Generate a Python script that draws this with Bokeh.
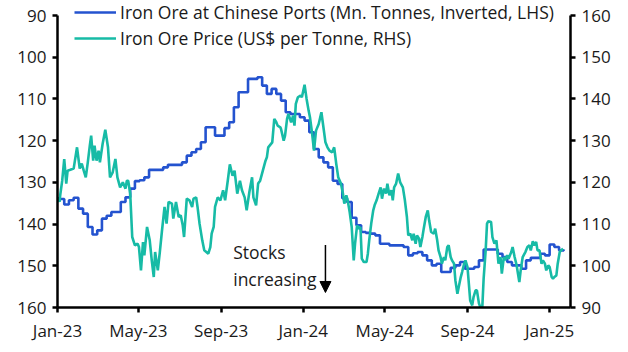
import pandas as pd
from bokeh.plotting import figure
from bokeh.models import (Range1d, LinearAxis, DatetimeTickFormatter, MonthsTicker,
                          FixedTicker, Legend, LegendItem, Arrow, NormalHead, ColumnDataSource)
from bokeh.core.properties import value
from bokeh.embed import file_html
from bokeh.resources import INLINE

# ---------------- data ----------------
# Iron ore stocks at Chinese ports (Mn tonnes, weekly, LHS inverted)
stocks_start = "2022-12-28"
stocks_values = [
    133.9, 134.0, 135.3, 134.3, 133.7, 136.3, 137.5, 140.7, 142.5, 141.5,
    138.7, 138.0, 137.1, 137.1, 134.7, 133.6, 131.5, 129.7, 129.5, 128.8,
    127.0, 127.0, 127.0, 126.4, 125.8, 125.8, 125.8, 125.2, 123.6, 122.8,
    122.0, 120.4, 116.8, 116.8, 118.8, 118.8, 117.0, 115.6, 112.0, 108.4,
    108.4, 105.2, 105.2, 104.8, 106.8, 108.8, 107.6, 108.8, 110.4, 113.2,
    113.6, 113.6, 114.4, 115.2, 118.0, 122.0, 124.0, 125.2, 126.4, 129.6,
    130.4, 133.8, 134.7, 138.5, 140.3, 141.9, 142.1, 142.3, 142.7, 144.7,
    144.7, 145.1, 145.1, 145.1, 145.5, 147.5, 147.0, 146.7, 147.5, 148.7,
    149.9, 149.5, 151.5, 151.5, 150.5, 149.9, 149.1, 150.7, 150.7, 150.3,
    148.7, 146.1, 146.1, 146.1, 147.1, 147.9, 149.1, 149.9, 149.9, 150.7,
    148.7, 148.1, 148.1, 147.1, 147.5, 144.9, 145.5, 146.3, 146.1,
]

# Iron ore price (US$ per tonne, RHS)
price_dates = [
    "2023-01-02", "2023-01-04", "2023-01-05", "2023-01-08", "2023-01-11", "2023-01-14", "2023-01-16",
    "2023-01-20", "2023-01-25", "2023-01-30", "2023-02-03", "2023-02-06", "2023-02-09", "2023-02-12",
    "2023-02-15", "2023-02-18", "2023-02-20", "2023-02-23", "2023-02-25", "2023-02-28", "2023-03-03",
    "2023-03-05", "2023-03-09", "2023-03-13", "2023-03-17", "2023-03-20", "2023-03-24", "2023-03-28",
    "2023-03-31", "2023-04-04", "2023-04-08", "2023-04-12", "2023-04-14", "2023-04-16", "2023-04-19",
    "2023-04-22", "2023-04-26", "2023-04-30", "2023-05-02", "2023-05-05", "2023-05-08", "2023-05-10",
    "2023-05-14", "2023-05-18", "2023-05-21", "2023-05-24", "2023-05-26", "2023-05-30", "2023-06-02",
    "2023-06-05", "2023-06-09", "2023-06-12", "2023-06-15", "2023-06-20", "2023-06-22", "2023-06-26",
    "2023-06-30", "2023-07-03", "2023-07-06", "2023-07-08", "2023-07-12", "2023-07-16", "2023-07-20",
    "2023-07-22", "2023-07-26", "2023-07-28", "2023-07-31", "2023-08-04", "2023-08-07", "2023-08-10",
    "2023-08-13", "2023-08-16", "2023-08-18", "2023-08-21", "2023-08-23", "2023-08-27", "2023-08-31",
    "2023-09-04", "2023-09-07", "2023-09-11", "2023-09-14", "2023-09-18", "2023-09-21", "2023-09-25",
    "2023-09-27", "2023-09-29", "2023-10-02", "2023-10-06", "2023-10-09", "2023-10-13", "2023-10-17",
    "2023-10-19", "2023-10-23", "2023-10-26", "2023-10-29", "2023-11-02", "2023-11-06", "2023-11-08",
    "2023-11-10", "2023-11-16", "2023-11-19", "2023-11-22", "2023-11-24", "2023-11-28", "2023-11-29",
    "2023-12-03", "2023-12-05", "2023-12-08", "2023-12-10", "2023-12-14", "2023-12-17", "2023-12-19",
    "2023-12-21", "2023-12-24", "2023-12-28", "2023-12-30", "2024-01-03", "2024-01-06", "2024-01-09",
    "2024-01-11", "2024-01-14", "2024-01-17", "2024-01-20", "2024-01-24", "2024-01-28", "2024-01-31",
    "2024-02-03", "2024-02-06", "2024-02-09", "2024-02-13", "2024-02-16", "2024-02-19", "2024-02-22",
    "2024-02-26", "2024-02-29", "2024-03-02", "2024-03-05", "2024-03-07", "2024-03-10", "2024-03-13",
    "2024-03-16", "2024-03-18", "2024-03-21", "2024-03-23", "2024-03-26", "2024-03-28", "2024-03-31",
    "2024-04-04", "2024-04-06", "2024-04-08", "2024-04-11", "2024-04-14", "2024-04-16", "2024-04-19",
    "2024-04-22", "2024-04-25", "2024-04-27", "2024-04-30", "2024-05-03", "2024-05-05", "2024-05-08",
    "2024-05-11", "2024-05-13", "2024-05-15", "2024-05-18", "2024-05-21", "2024-05-24", "2024-05-28",
    "2024-05-31", "2024-06-03", "2024-06-05", "2024-06-08", "2024-06-11", "2024-06-13", "2024-06-16",
    "2024-06-18", "2024-06-21", "2024-06-23", "2024-06-26", "2024-06-28", "2024-07-01", "2024-07-04",
    "2024-07-06", "2024-07-09", "2024-07-13", "2024-07-15", "2024-07-18", "2024-07-20", "2024-07-23",
    "2024-07-25", "2024-07-28", "2024-07-30", "2024-08-02", "2024-08-04", "2024-08-07", "2024-08-09",
    "2024-08-12", "2024-08-14", "2024-08-17", "2024-08-19", "2024-08-22", "2024-08-24", "2024-08-27",
    "2024-08-29", "2024-09-01", "2024-09-03", "2024-09-05", "2024-09-08", "2024-09-10", "2024-09-13",
    "2024-09-15", "2024-09-18", "2024-09-20", "2024-09-23", "2024-09-25", "2024-09-28", "2024-09-30",
    "2024-10-02", "2024-10-06", "2024-10-08", "2024-10-11", "2024-10-14", "2024-10-17", "2024-10-20",
    "2024-10-22", "2024-10-25", "2024-10-27", "2024-10-30", "2024-11-01", "2024-11-05", "2024-11-07",
    "2024-11-10", "2024-11-13", "2024-11-15", "2024-11-17", "2024-11-19", "2024-11-22", "2024-11-26",
    "2024-11-29", "2024-12-02", "2024-12-04", "2024-12-07", "2024-12-09", "2024-12-12", "2024-12-14",
    "2024-12-17", "2024-12-20", "2024-12-22", "2024-12-25", "2024-12-27", "2024-12-30", "2025-01-01",
    "2025-01-04", "2025-01-06", "2025-01-08", "2025-01-11", "2025-01-13", "2025-01-16", "2025-01-18",
    "2025-01-21",
]
price_values = [
    116.4, 115.3, 116.9, 120.4, 125.6, 119.7, 122.8,
    123.0, 123.3, 128.4, 123.3, 124.5, 122.8, 121.2,
    124.8, 128.8, 131.2, 125.2, 128.8, 125.2, 127.6,
    124.8, 129.2, 132.6, 128.4, 121.2, 122.4, 125.6,
    121.2, 118.8, 120.0, 118.5, 120.4, 120.4, 117.3,
    106.9, 104.9, 105.3, 104.5, 98.9, 105.7, 102.5,
    109.3, 106.1, 101.3, 97.3, 103.3, 98.9, 103.3,
    108.1, 114.1, 110.1, 115.3, 114.9, 111.3, 115.3,
    111.7, 112.1, 109.7, 106.9, 116.1, 115.7, 114.1,
    116.1, 116.4, 114.1, 110.1, 106.1, 103.7, 103.3,
    102.9, 104.5, 107.7, 109.3, 114.1, 116.4, 115.7,
    118.1, 115.7, 120.5, 124.3, 121.6, 122.8, 117.3,
    118.8, 120.4, 118.1, 116.4, 113.3, 117.7, 121.2,
    116.4, 114.5, 119.7, 120.4, 122.8, 125.2, 126.0,
    128.4, 129.6, 135.2, 134.4, 133.6, 133.2, 132.8,
    130.0, 131.2, 135.2, 136.4, 134.4, 136.0, 133.6,
    138.8, 140.4, 140.8, 140.4, 143.4, 140.0, 137.2,
    135.6, 132.0, 127.6, 132.4, 134.0, 136.8, 133.2,
    129.6, 128.4, 127.6, 127.2, 128.4, 124.5, 121.2,
    119.7, 117.3, 114.9, 116.9, 115.7, 112.9, 109.3,
    101.3, 105.3, 109.7, 108.9, 109.3, 101.7, 100.9,
    100.9, 102.9, 106.1, 110.1, 113.3, 114.5, 115.7,
    117.3, 118.8, 116.1, 118.5, 117.3, 119.7, 116.9,
    118.1, 115.7, 118.8, 119.7, 122.1, 120.0, 118.8,
    115.7, 111.7, 107.3, 107.7, 106.1, 107.7, 105.3,
    107.3, 106.5, 104.5, 106.9, 108.9, 111.7, 113.3,
    110.9, 108.1, 107.7, 108.9, 106.1, 103.7, 102.1,
    100.5, 102.1, 101.3, 104.5, 104.9, 102.1, 101.3,
    100.5, 96.5, 93.3, 94.9, 97.3, 98.5, 100.5,
    101.3, 99.7, 95.7, 91.7, 90.5, 92.5, 94.1,
    94.1, 91.0, 90.1, 90.1, 97.0, 103.7, 110.1,
    110.7, 110.5, 106.9, 105.3, 106.1, 100.5, 102.1,
    98.1, 102.1, 101.3, 102.5, 101.7, 103.3, 104.5,
    102.1, 100.1, 98.1, 96.1, 98.9, 102.1, 103.3,
    104.5, 104.9, 103.7, 105.9, 104.9, 105.7, 103.7,
    103.7, 100.5, 101.3, 100.5, 98.9, 100.1, 99.7,
    97.3, 96.9, 97.3, 97.7, 100.5, 103.3, 103.7,
    104.1,
]

lhs_ticks = [90, 100, 110, 120, 130, 140, 150, 160]
rhs_ticks = [90, 100, 110, 120, 130, 140, 150, 160]
series_names = ["Iron Ore at Chinese Ports (Mn. Tonnes, Inverted, LHS)",
                "Iron Ore Price (US$ per Tonne, RHS)"]
note_lines = ["Stocks", "increasing"]

# ---------------- styling ----------------
FONT = "Open Sans"
FS = "17px"
LEG_FS = "17.5px"
NOTE_FS = "17.5px"
BLUE = "#2453CF"
TEAL = "#17BBA6"
TXT = "#1a1a1a"
HEADROOM = 15 * 70 / 292  # extra data room above 90/160 so the legend sits inside the frame

stocks_dates = pd.date_range(stocks_start, periods=len(stocks_values), freq="7D")
src_s = ColumnDataSource(dict(x=stocks_dates, y=stocks_values))
src_p = ColumnDataSource(dict(x=pd.to_datetime(price_dates), y=price_values))

p = figure(frame_width=513, frame_height=307,
           x_axis_type="datetime",
           x_range=Range1d(pd.Timestamp("2023-01-01"), pd.Timestamp("2025-02-01")),
           y_range=Range1d(160, 90 - HEADROOM),
           min_border_left=57, min_border_right=58, min_border_top=0, min_border_bottom=45,
           output_backend="svg", toolbar_location=None)
p.extra_y_ranges = {"rhs": Range1d(90, 160 + HEADROOM)}
p.outline_line_color = None
p.xgrid.visible = False
p.ygrid.visible = False
p.background_fill_color = "white"
p.border_fill_color = "white"

r_s = p.step("x", "y", source=src_s, mode="after", line_color=BLUE, line_width=2.6)
r_p = p.line("x", "y", source=src_p, y_range_name="rhs", line_color=TEAL, line_width=2.6)

right = LinearAxis(y_range_name="rhs")
p.add_layout(right, "right")

def style_axis(ax):
    ax.axis_line_width = 2.5
    ax.axis_line_color = "black"
    ax.major_tick_line_width = 2.5
    ax.major_tick_line_color = "black"
    ax.major_tick_out = 5
    ax.major_tick_in = 0
    ax.minor_tick_out = 0
    ax.minor_tick_in = 0
    ax.major_label_text_font = FONT
    ax.major_label_text_font_size = FS
    ax.major_label_text_color = TXT
    ax.major_label_standoff = 6

p.yaxis[0].ticker = FixedTicker(ticks=lhs_ticks)
p.yaxis[0].bounds = (90, 160)
right.ticker = FixedTicker(ticks=rhs_ticks)
right.bounds = (90, 160)
p.xaxis[0].ticker = MonthsTicker(months=[0, 4, 8])
p.xaxis[0].formatter = DatetimeTickFormatter(months="%b-%y", days="%b-%y", years="%b-%y")
for ax in [p.xaxis[0], p.yaxis[0], right]:
    style_axis(ax)

legend = Legend(items=[LegendItem(label=series_names[0], renderers=[r_s]),
                       LegendItem(label=series_names[1], renderers=[r_p])],
                location=(17, 256), orientation="vertical",
                border_line_color=None, background_fill_alpha=0,
                padding=0, margin=0, spacing=0,
                glyph_width=42, glyph_height=26, label_height=26,
                label_standoff=4,
                label_text_font=FONT, label_text_font_size=LEG_FS, label_text_color=TXT)
p.add_layout(legend, "center")

# annotation: "Stocks increasing" with arrow
note_src = ColumnDataSource(dict(x=[pd.Timestamp("2023-09-19")] * 2, y=[146.8, 153.2], t=note_lines))
p.text("x", "y", text="t", source=note_src, text_font=value(FONT), text_font_size=NOTE_FS,
       text_color=TXT, text_baseline="middle", text_align="left")
arrow_x = pd.Timestamp("2024-02-03")
p.add_layout(Arrow(end=NormalHead(size=11, fill_color="black", line_color="black"),
                   x_start=arrow_x, y_start=145.0, x_end=arrow_x, y_end=156.4,
                   line_width=1.5, line_color="black"))

open("out.html", "w").write(file_html(p, INLINE))
